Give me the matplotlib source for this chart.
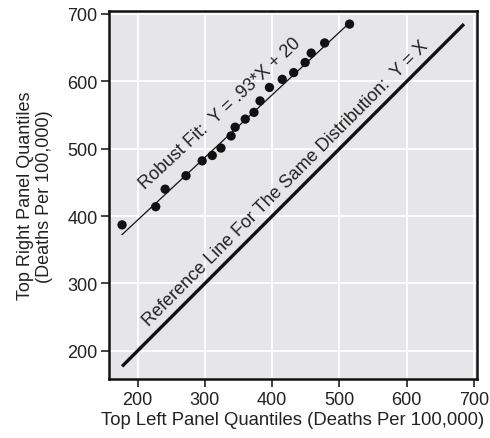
import matplotlib
matplotlib.use("Agg")
import matplotlib.pyplot as plt
import numpy as np

plt.rcParams['font.family'] = ['Liberation Sans', 'DejaVu Sans']

# Quantile pairs (x = top-left panel, y = top-right panel)
x_q = [177, 227, 241, 272, 296, 311, 324, 339, 345, 360, 373, 382, 396, 415, 432, 449, 458, 478, 515]
y_q = [387, 414, 440, 460, 482, 490, 501, 519, 532, 544, 554, 571, 591, 603, 613, 628, 642, 657, 685]

fit_slope = 0.93
fit_intercept = 208
fit_range = [177, 515]
ref_range = [177, 685]

xticks = [200, 300, 400, 500, 600, 700]
yticks = [200, 300, 400, 500, 600, 700]

fit_label = "Robust Fit:  Y = .93*X + 20"
ref_label = "Reference Line For The Same Distribution:  Y = X"
xlabel = "Top Left Panel Quantiles (Deaths Per 100,000)"
ylabel = "Top Right Panel Quantiles\n(Deaths Per 100,000)"

fig = plt.figure(figsize=(4.9, 4.39), dpi=100)
ax = fig.add_axes([0.223, 0.134, 0.750, 0.838])
ax.set_facecolor('#e6e6e8')
ax.set_xlim(158, 704)
ax.set_ylim(158, 704)

ax.set_xticks(xticks)
ax.set_yticks(yticks)
ax.grid(True, color='white', linewidth=1.3)
ax.set_axisbelow(True)

for s in ax.spines.values():
    s.set_linewidth(1.8)
    s.set_color('#111111')

ax.tick_params(direction='out', length=6, width=1.2, colors='#222222', labelsize=13, pad=2.5)

xf = np.array(fit_range, dtype=float)
ax.plot(xf, fit_slope * xf + fit_intercept, color='#111111', linewidth=0.9, zorder=3)
ax.plot(ref_range, ref_range, color='#111111', linewidth=2.4, zorder=3, solid_capstyle='butt')
ax.scatter(x_q, y_q, s=45, color='#111111', zorder=4, edgecolors='none')

ang_fit = np.degrees(np.arctan(fit_slope))
ax.text(323, 553, fit_label, rotation=ang_fit, rotation_mode='anchor',
        ha='center', va='center', fontsize=13, color='#222222')
ax.text(420, 449, ref_label, rotation=45, rotation_mode='anchor',
        ha='center', va='center', fontsize=13, color='#222222')

ax.set_xlabel(xlabel, fontsize=13.3, color='#222222', labelpad=2)
ax.set_ylabel(ylabel, fontsize=13, color='#222222', labelpad=10)

fig.savefig('out.png', dpi=100)
